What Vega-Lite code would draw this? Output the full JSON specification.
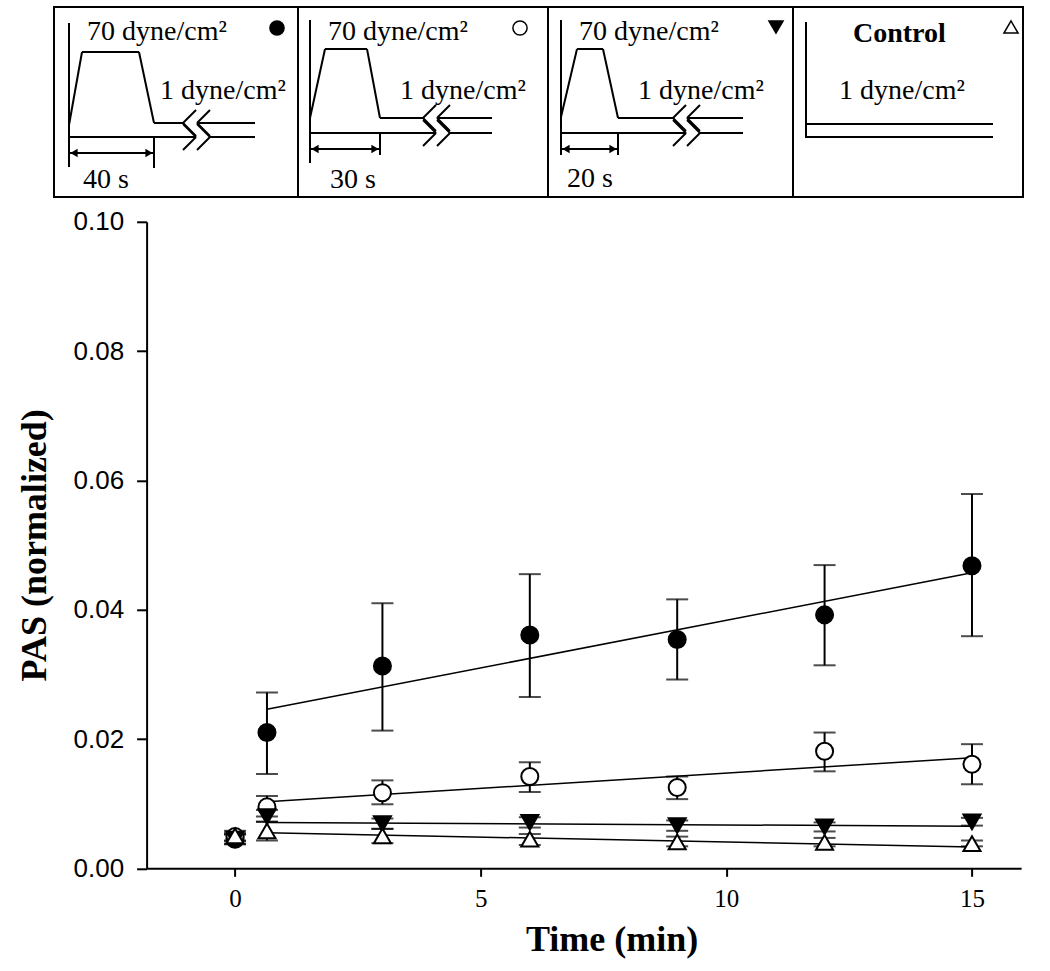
{
  "$schema": "https://vega.github.io/schema/vega-lite/v6.json",
  "width": 874.5,
  "height": 646.5,
  "autosize": {"type": "none"},
  "padding": {"left": 146.6, "top": 221.8, "right": 28.9, "bottom": 102.7},
  "background": "white",
  "config": {"view": {"stroke": null}, "font": "Liberation Serif"},
  "datasets": {
    "pts": [
      {"s": "40s", "t": 0, "v": 0.0045, "lo": 0.0038, "hi": 0.0052},
      {"s": "40s", "t": 0.65, "v": 0.0210, "lo": 0.0146, "hi": 0.0272},
      {"s": "40s", "t": 3, "v": 0.0313, "lo": 0.0213, "hi": 0.0410},
      {"s": "40s", "t": 6, "v": 0.0361, "lo": 0.0265, "hi": 0.0455},
      {"s": "40s", "t": 9, "v": 0.0354, "lo": 0.0292, "hi": 0.0416},
      {"s": "40s", "t": 12, "v": 0.0392, "lo": 0.0314, "hi": 0.0469},
      {"s": "40s", "t": 15, "v": 0.0468, "lo": 0.0359, "hi": 0.0579},
      {"s": "30s", "t": 0, "v": 0.0049, "lo": 0.0043, "hi": 0.0055},
      {"s": "30s", "t": 0.65, "v": 0.0095, "lo": 0.0080, "hi": 0.0112},
      {"s": "30s", "t": 3, "v": 0.0117, "lo": 0.0099, "hi": 0.0136},
      {"s": "30s", "t": 6, "v": 0.0142, "lo": 0.0118, "hi": 0.0164},
      {"s": "30s", "t": 9, "v": 0.0125, "lo": 0.0107, "hi": 0.0142},
      {"s": "30s", "t": 12, "v": 0.0181, "lo": 0.0150, "hi": 0.0210},
      {"s": "30s", "t": 15, "v": 0.0161, "lo": 0.0130, "hi": 0.0192},
      {"s": "20s", "t": 0, "v": 0.0045, "lo": 0.0037, "hi": 0.0053},
      {"s": "20s", "t": 0.65, "v": 0.0080, "lo": 0.0072, "hi": 0.0090},
      {"s": "20s", "t": 3, "v": 0.0069, "lo": 0.0061, "hi": 0.0077},
      {"s": "20s", "t": 6, "v": 0.0071, "lo": 0.0063, "hi": 0.0079},
      {"s": "20s", "t": 9, "v": 0.0066, "lo": 0.0058, "hi": 0.0074},
      {"s": "20s", "t": 12, "v": 0.0064, "lo": 0.0057, "hi": 0.0071},
      {"s": "20s", "t": 15, "v": 0.0072, "lo": 0.0066, "hi": 0.0078},
      {"s": "ctrl", "t": 0, "v": 0.0050, "lo": 0.0042, "hi": 0.0058},
      {"s": "ctrl", "t": 0.65, "v": 0.0058, "lo": 0.0043, "hi": 0.0072},
      {"s": "ctrl", "t": 3, "v": 0.0050, "lo": 0.0039, "hi": 0.0061},
      {"s": "ctrl", "t": 6, "v": 0.0045, "lo": 0.0036, "hi": 0.0053},
      {"s": "ctrl", "t": 9, "v": 0.0041, "lo": 0.0034, "hi": 0.0049},
      {"s": "ctrl", "t": 12, "v": 0.0040, "lo": 0.0034, "hi": 0.0047},
      {"s": "ctrl", "t": 15, "v": 0.0038, "lo": 0.0034, "hi": 0.0043}
    ],
    "fits": [
      {"s": "40s", "t": 0.65, "v": 0.0246}, {"s": "40s", "t": 15, "v": 0.0457},
      {"s": "30s", "t": 0.65, "v": 0.0103}, {"s": "30s", "t": 15, "v": 0.0171},
      {"s": "20s", "t": 0.65, "v": 0.0071}, {"s": "20s", "t": 15, "v": 0.0065},
      {"s": "ctrl", "t": 0.65, "v": 0.0055}, {"s": "ctrl", "t": 15, "v": 0.0033}
    ],
    "boxes": [
      {"x": 0, "x2": 244, "y": 0, "y2": 190},
      {"x": 244, "x2": 494, "y": 0, "y2": 190},
      {"x": 494, "x2": 739, "y": 0, "y2": 190},
      {"x": 739, "x2": 969, "y": 0, "y2": 190}
    ],
    "segs": [
      {"x": 15, "y": 16, "x2": 15, "y2": 160},
      {"x": 15, "y": 118, "x2": 28, "y2": 45},
      {"x": 28, "y": 45, "x2": 85, "y2": 45},
      {"x": 85, "y": 45, "x2": 100, "y2": 116},
      {"x": 100, "y": 116, "x2": 129, "y2": 116},
      {"x": 129, "y": 116, "x2": 142, "y2": 103},
      {"x": 129, "y": 116, "x2": 142, "y2": 129},
      {"x": 143, "y": 116, "x2": 156, "y2": 103},
      {"x": 143, "y": 116, "x2": 156, "y2": 129},
      {"x": 129, "y": 117, "x2": 142, "y2": 130},
      {"x": 129, "y": 143, "x2": 142, "y2": 130},
      {"x": 143, "y": 117, "x2": 156, "y2": 130},
      {"x": 143, "y": 143, "x2": 156, "y2": 130},
      {"x": 143, "y": 116, "x2": 201, "y2": 116},
      {"x": 15, "y": 130, "x2": 142, "y2": 130},
      {"x": 156, "y": 130, "x2": 201, "y2": 130},
      {"x": 15, "y": 146, "x2": 100, "y2": 146},
      {"x": 100, "y": 130, "x2": 100, "y2": 161},
      {"x": 256, "y": 13, "x2": 256, "y2": 156},
      {"x": 256, "y": 111, "x2": 271, "y2": 42},
      {"x": 271, "y": 42, "x2": 313, "y2": 42},
      {"x": 313, "y": 42, "x2": 326, "y2": 111},
      {"x": 326, "y": 111, "x2": 369, "y2": 111},
      {"x": 369, "y": 111, "x2": 382, "y2": 98},
      {"x": 369, "y": 111, "x2": 382, "y2": 124},
      {"x": 383, "y": 111, "x2": 396, "y2": 98},
      {"x": 383, "y": 111, "x2": 396, "y2": 124},
      {"x": 369, "y": 113, "x2": 382, "y2": 126},
      {"x": 369, "y": 139, "x2": 382, "y2": 126},
      {"x": 383, "y": 113, "x2": 396, "y2": 126},
      {"x": 383, "y": 139, "x2": 396, "y2": 126},
      {"x": 383, "y": 111, "x2": 438, "y2": 111},
      {"x": 256, "y": 126, "x2": 382, "y2": 126},
      {"x": 396, "y": 126, "x2": 438, "y2": 126},
      {"x": 256, "y": 142, "x2": 326, "y2": 142},
      {"x": 326, "y": 126, "x2": 326, "y2": 148},
      {"x": 507, "y": 13, "x2": 507, "y2": 148},
      {"x": 507, "y": 110, "x2": 523, "y2": 42},
      {"x": 523, "y": 42, "x2": 549, "y2": 42},
      {"x": 549, "y": 42, "x2": 564, "y2": 111},
      {"x": 564, "y": 111, "x2": 619, "y2": 111},
      {"x": 619, "y": 111, "x2": 632, "y2": 98},
      {"x": 619, "y": 111, "x2": 632, "y2": 124},
      {"x": 633, "y": 111, "x2": 646, "y2": 98},
      {"x": 633, "y": 111, "x2": 646, "y2": 124},
      {"x": 619, "y": 113, "x2": 632, "y2": 126},
      {"x": 619, "y": 139, "x2": 632, "y2": 126},
      {"x": 633, "y": 113, "x2": 646, "y2": 126},
      {"x": 633, "y": 139, "x2": 646, "y2": 126},
      {"x": 633, "y": 111, "x2": 689, "y2": 111},
      {"x": 507, "y": 126, "x2": 632, "y2": 126},
      {"x": 646, "y": 126, "x2": 689, "y2": 126},
      {"x": 507, "y": 142, "x2": 564, "y2": 142},
      {"x": 564, "y": 126, "x2": 564, "y2": 148},
      {"x": 752, "y": 15, "x2": 752, "y2": 131},
      {"x": 752, "y": 117, "x2": 939, "y2": 117},
      {"x": 752, "y": 130, "x2": 939, "y2": 130}
    ],
    "arrowL": [{"x": 20, "y": 146}, {"x": 261, "y": 142}, {"x": 512, "y": 142}],
    "arrowR": [{"x": 95, "y": 146}, {"x": 321, "y": 142}, {"x": 559, "y": 142}],
    "labels": [
      {"x": 33, "y": 33, "label": "70 dyne/cm²"},
      {"x": 274, "y": 33, "label": "70 dyne/cm²"},
      {"x": 525, "y": 33, "label": "70 dyne/cm²"},
      {"x": 106, "y": 92, "label": "1 dyne/cm²"},
      {"x": 346, "y": 92, "label": "1 dyne/cm²"},
      {"x": 584, "y": 92, "label": "1 dyne/cm²"},
      {"x": 785, "y": 92, "label": "1 dyne/cm²"},
      {"x": 29, "y": 181, "label": "40 s"},
      {"x": 276, "y": 181, "label": "30 s"},
      {"x": 513, "y": 180, "label": "20 s"}
    ],
    "boldlabels": [{"x": 799, "y": 35, "label": "Control"}],
    "syms": [
      {"s": "40s", "x": 223, "y": 21},
      {"s": "30s", "x": 466, "y": 21},
      {"s": "20s", "x": 722, "y": 20},
      {"s": "ctrl", "x": 957, "y": 20}
    ]
  },
  "layer": [
    {
      "layer": [
        {
          "data": {"name": "fits"},
          "mark": {"type": "line", "color": "black", "strokeWidth": 1.5},
          "encoding": {
            "x": {"field": "t", "type": "quantitative", "title": "Time (min)",
              "scale": {"domain": [-1.8, 16], "nice": false, "zero": false},
              "axis": {"values": [0, 5, 10, 15], "grid": false, "labelFont": "Liberation Serif", "labelFontSize": 25, "labelColor": "black", "tickColor": "black", "tickSize": 8, "tickWidth": 2, "domainColor": "black", "domainWidth": 2, "labelPadding": 10,
                "titleFont": "Liberation Serif", "titleFontSize": 36, "titleFontWeight": "bold", "titleColor": "black", "titleX": 465, "titleY": 82, "titleBaseline": "alphabetic", "titleAlign": "center"}},
            "y": {"field": "v", "type": "quantitative", "title": "PAS (normalized)",
              "scale": {"domain": [0, 0.1], "nice": false, "zero": false},
              "axis": {"values": [0, 0.02, 0.04, 0.06, 0.08, 0.1], "format": ".2f", "grid": false, "labelFont": "Liberation Sans", "labelFontSize": 26, "labelColor": "black", "tickColor": "black", "tickSize": 10, "tickWidth": 2, "domainColor": "black", "domainWidth": 2, "labelPadding": 13,
                "titleFont": "Liberation Serif", "titleFontSize": 36, "titleFontWeight": "bold", "titleColor": "black", "titleX": -112.6, "titleY": 323, "titleBaseline": "middle", "titleAlign": "center", "titleAngle": -90}},
            "detail": {"field": "s"}
          }
        },
        {
          "data": {"name": "pts"},
          "mark": {"type": "rule", "color": "black", "strokeWidth": 2},
          "encoding": {
            "x": {"field": "t", "type": "quantitative", "title": "Time (min)"},
            "y": {"field": "lo", "type": "quantitative", "title": "PAS (normalized)"},
            "y2": {"field": "hi"}
          }
        },
        {
          "data": {"name": "pts"},
          "mark": {"type": "tick", "orient": "horizontal", "color": "black", "size": 22, "thickness": 2},
          "encoding": {
            "x": {"field": "t", "type": "quantitative", "title": "Time (min)"},
            "y": {"field": "lo", "type": "quantitative", "title": "PAS (normalized)"}
          }
        },
        {
          "data": {"name": "pts"},
          "mark": {"type": "tick", "orient": "horizontal", "color": "black", "size": 22, "thickness": 2},
          "encoding": {
            "x": {"field": "t", "type": "quantitative", "title": "Time (min)"},
            "y": {"field": "hi", "type": "quantitative", "title": "PAS (normalized)"}
          }
        },
        {
          "data": {"name": "pts"},
          "mark": {"type": "point", "stroke": "black", "strokeWidth": 2, "opacity": 1, "size": 290},
          "encoding": {
            "x": {"field": "t", "type": "quantitative", "title": "Time (min)"},
            "y": {"field": "v", "type": "quantitative", "title": "PAS (normalized)"},
            "shape": {"field": "s", "type": "nominal", "legend": null,
              "scale": {"domain": ["40s", "30s", "20s", "ctrl"], "range": ["circle", "circle", "triangle-down", "triangle-up"]}},
            "fill": {"field": "s", "type": "nominal", "legend": null,
              "scale": {"domain": ["40s", "30s", "20s", "ctrl"], "range": ["black", "white", "black", "white"]}}
          }
        }
      ]
    },
    {
      "layer": [
        {
          "data": {"name": "boxes"},
          "mark": {"type": "rect", "fill": "white", "fillOpacity": 0, "stroke": "black", "strokeWidth": 2},
          "encoding": {
            "x": {"field": "x", "type": "quantitative", "axis": null, "scale": {"domain": [92.6, 967.1], "nice": false, "zero": false}},
            "x2": {"field": "x2"},
            "y": {"field": "y", "type": "quantitative", "axis": null, "scale": {"domain": [214.8, 861.3], "reverse": true, "nice": false, "zero": false}},
            "y2": {"field": "y2"}
          }
        },
        {
          "data": {"name": "segs"},
          "mark": {"type": "rule", "color": "black", "strokeWidth": 2},
          "encoding": {
            "x": {"field": "x", "type": "quantitative", "axis": null},
            "x2": {"field": "x2"},
            "y": {"field": "y", "type": "quantitative", "axis": null},
            "y2": {"field": "y2"}
          }
        },
        {
          "data": {"name": "arrowL"},
          "mark": {"type": "point", "shape": "triangle-left", "filled": true, "color": "black", "opacity": 1, "size": 70},
          "encoding": {
            "x": {"field": "x", "type": "quantitative", "axis": null},
            "y": {"field": "y", "type": "quantitative", "axis": null}
          }
        },
        {
          "data": {"name": "arrowR"},
          "mark": {"type": "point", "shape": "triangle-right", "filled": true, "color": "black", "opacity": 1, "size": 70},
          "encoding": {
            "x": {"field": "x", "type": "quantitative", "axis": null},
            "y": {"field": "y", "type": "quantitative", "axis": null}
          }
        },
        {
          "data": {"name": "labels"},
          "mark": {"type": "text", "align": "left", "baseline": "alphabetic", "font": "Liberation Serif", "fontSize": 28, "color": "black"},
          "encoding": {
            "x": {"field": "x", "type": "quantitative", "axis": null},
            "y": {"field": "y", "type": "quantitative", "axis": null},
            "text": {"field": "label"}
          }
        },
        {
          "data": {"name": "boldlabels"},
          "mark": {"type": "text", "align": "left", "baseline": "alphabetic", "font": "Liberation Serif", "fontSize": 28, "fontWeight": "bold", "color": "black"},
          "encoding": {
            "x": {"field": "x", "type": "quantitative", "axis": null},
            "y": {"field": "y", "type": "quantitative", "axis": null},
            "text": {"field": "label"}
          }
        },
        {
          "data": {"name": "syms"},
          "mark": {"type": "point", "stroke": "black", "strokeWidth": 1.5, "opacity": 1, "size": 200},
          "encoding": {
            "x": {"field": "x", "type": "quantitative", "axis": null},
            "y": {"field": "y", "type": "quantitative", "axis": null},
            "shape": {"field": "s", "type": "nominal", "legend": null},
            "fill": {"field": "s", "type": "nominal", "legend": null}
          }
        }
      ]
    }
  ],
  "resolve": {"scale": {"x": "independent", "y": "independent"}}
}
